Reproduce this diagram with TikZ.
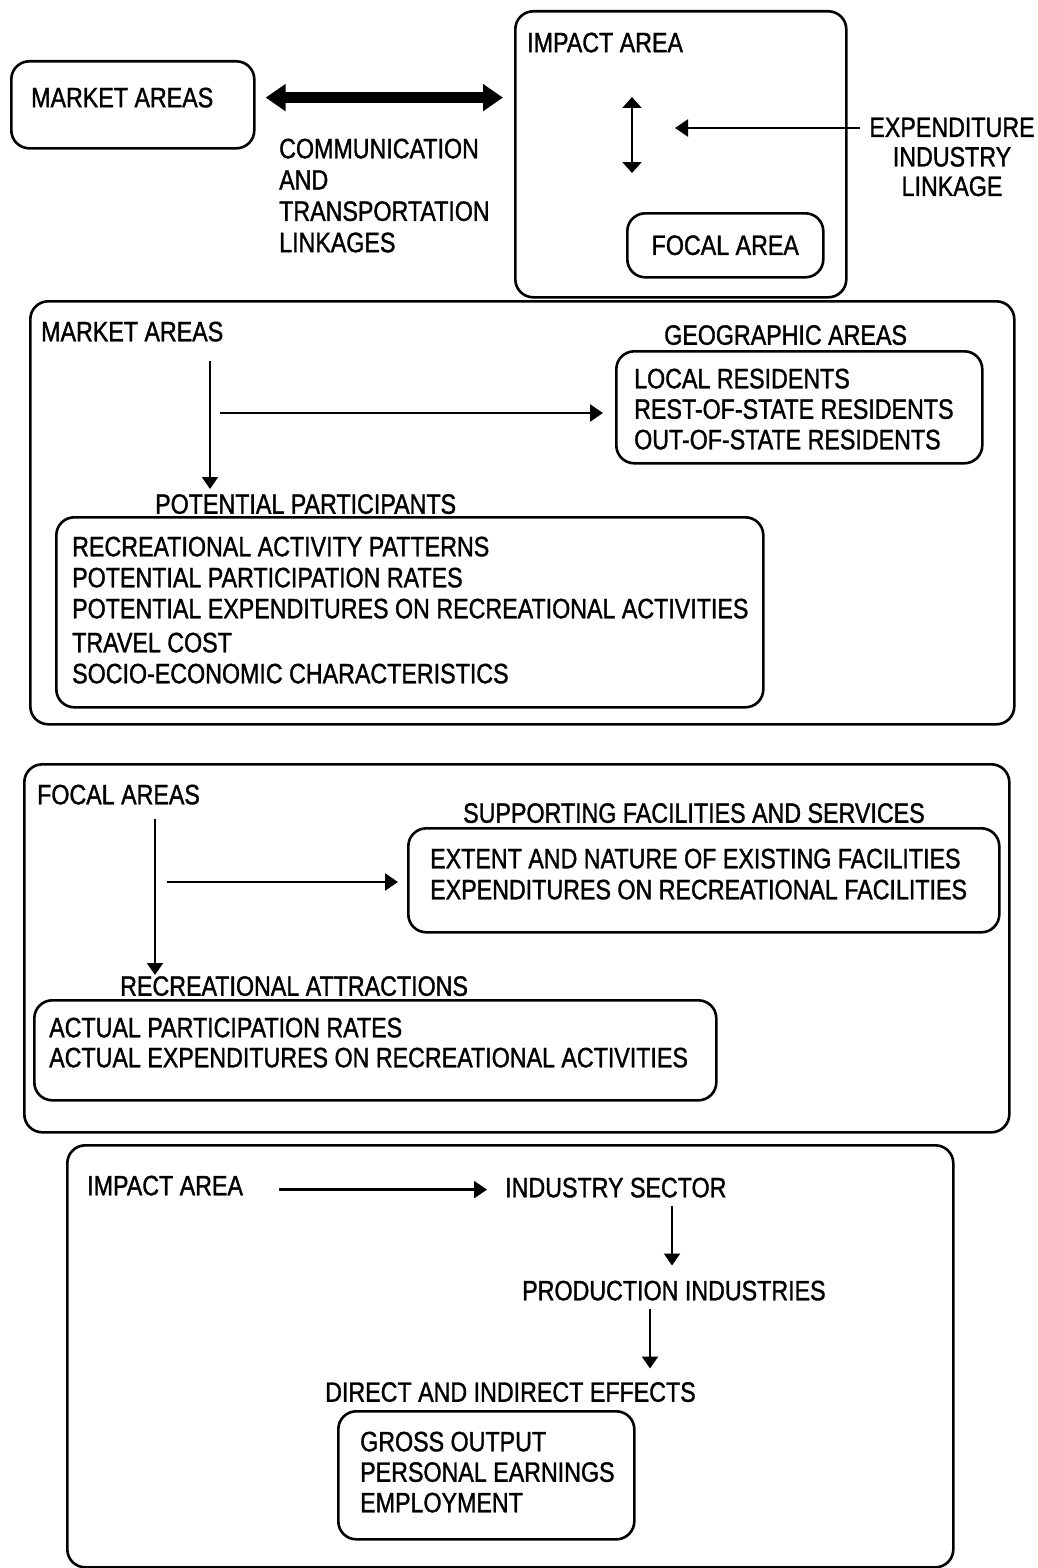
\documentclass[tikz,border=0pt]{standalone}
\usepackage{fontspec}
\setmainfont{Liberation Sans}[FakeStretch=0.83,FakeBold=1.2]
\usetikzlibrary{arrows.meta,calc}
\begin{document}
\begin{tikzpicture}[x=1pt,y=-1pt,
  box/.style={draw, line width=2.6pt, rounded corners=18pt, inner sep=0pt, anchor=north west},
  txt/.style={anchor=north west, inner sep=0pt, align=left, font=\fontsize{28}{31}\selectfont},
  ctxt/.style={anchor=north, inner sep=0pt, align=center, font=\fontsize{28}{29.5}\selectfont},
  arr/.style={line width=2.4pt, -{Triangle[length=13pt,width=17pt]}},
  varr/.style={line width=2pt, -{Triangle[length=12pt,width=16pt]}},
  darr/.style={line width=2pt, {Triangle[length=11pt,width=19pt]}-{Triangle[length=11pt,width=19pt]}},
  fat/.style={line width=11pt, {Triangle[length=20pt,width=26pt]}-{Triangle[length=20pt,width=26pt]}}]
\useasboundingbox (0,0) rectangle (1038,1568);

% ---------- top part ----------
\node[box, minimum width=243pt, minimum height=87pt] (mktbox) at (10,60) {};
\node[txt] (mkt) at (31,87.5) {MARKET AREAS};
\node[box, minimum width=331pt, minimum height=286pt] (impbox) at (514,10) {};
\node[txt] (imp) at (527,32.5) {IMPACT AREA};
\node[box, minimum width=196pt, minimum height=64pt, font=\fontsize{28}{31}\selectfont] (focbox) at (626,212) {FOCAL AREA};
\node[txt, font=\fontsize{28}{31.3}\selectfont] (comm) at (279,138.5) {COMMUNICATION\\AND\\TRANSPORTATION\\LINKAGES};
\node[ctxt] (exp) at (952,117.5) {EXPENDITURE\\INDUSTRY\\LINKAGE};

\draw[fat] ([xshift=10pt]mkt.east -| mktbox.east) -- ([xshift=-11pt]mkt.east -| impbox.west);
\coordinate (lkA) at (632,97);
\coordinate (lkB) at (632,173);
\draw[darr] (lkA) -- (lkB);
\coordinate (expend) at (675,128);
\draw[arr] ([shift={(-9,10.5)}]exp.north west) -- (expend);

% ---------- market areas section ----------
\node[box, minimum width=984pt, minimum height=423pt] (sec2) at (29,300) {};
\node[txt] (ma2) at (41,321.5) {MARKET AREAS};
\node[txt] (geo) at (664,325) {GEOGRAPHIC AREAS};
\node[box, minimum width=366pt, minimum height=112pt] (geobox) at (615,350) {};
\node[txt, font=\fontsize{28}{30.5}\selectfont] (geotxt) at (634,368.5) {LOCAL RESIDENTS\\REST-OF-STATE RESIDENTS\\OUT-OF-STATE RESIDENTS};
\node[txt] (pp) at (155,494) {POTENTIAL PARTICIPANTS};
\node[box, minimum width=707pt, minimum height=190pt] (ppbox) at (55,516) {};
\node[txt] (pptxt) at (72,536.5) {RECREATIONAL ACTIVITY PATTERNS\\POTENTIAL PARTICIPATION RATES\\POTENTIAL EXPENDITURES ON RECREATIONAL ACTIVITIES\\[3pt]TRAVEL COST\\SOCIO-ECONOMIC CHARACTERISTICS};

\draw[varr] ([shift={(169,19)}]ma2.south west) -- ([shift={(55,-5)}]pp.north west);
\coordinate (c2h) at (220,413);
\draw[arr] (c2h) -- ([xshift=-12pt]c2h -| geobox.west);

% ---------- focal areas section ----------
\node[box, minimum width=985pt, minimum height=368pt] (sec3) at (23,763) {};
\node[txt] (fa) at (37,784.5) {FOCAL AREAS};
\node[txt] (sf) at (463,803) {SUPPORTING FACILITIES AND SERVICES};
\node[box, minimum width=591pt, minimum height=104pt] (sfbox) at (407,827) {};
\node[txt] (sftxt) at (430,848.5) {EXTENT AND NATURE OF EXISTING FACILITIES\\EXPENDITURES ON RECREATIONAL FACILITIES};
\node[txt] (ra) at (120,976) {RECREATIONAL ATTRACTIONS};
\node[box, minimum width=682pt, minimum height=100pt] (rabox) at (33,999) {};
\node[txt, font=\fontsize{28}{30}\selectfont] (ratxt) at (49,1017.5) {ACTUAL PARTICIPATION RATES\\ACTUAL EXPENDITURES ON RECREATIONAL ACTIVITIES};

\draw[varr] ([shift={(118,14)}]fa.south west) -- ([shift={(35,-1)}]ra.north west);
\coordinate (c3h) at (167,882);
\draw[arr] (c3h) -- ([xshift=-9pt]c3h -| sfbox.west);

% ---------- impact area section ----------
\node[box, minimum width=886pt, minimum height=422pt] (sec4) at (66,1144) {};
\node[txt] (ia) at (87,1175.5) {IMPACT AREA};
\node[txt] (is) at (505,1177.5) {INDUSTRY SECTOR};
\node[txt] (pi) at (522,1280.5) {PRODUCTION INDUSTRIES};
\node[txt] (de) at (325,1382) {DIRECT AND INDIRECT EFFECTS};
\node[box, minimum width=296pt, minimum height=128pt] (debox) at (337,1410) {};
\node[txt, font=\fontsize{28}{30.5}\selectfont] (detxt) at (360,1431.5) {GROSS OUTPUT\\PERSONAL EARNINGS\\EMPLOYMENT};

\draw[arr] ([shift={(36,4)}]ia.east) -- ([shift={(-18,4)}]ia.east -| is.west);
\draw[varr] ([shift={(167,8)}]is.south west) -- ([shift={(150,-15)}]pi.north west);
\draw[varr] ([shift={(128,8)}]pi.south west) -- ([shift={(325,-13.5)}]de.north west);
\end{tikzpicture}
\end{document}
